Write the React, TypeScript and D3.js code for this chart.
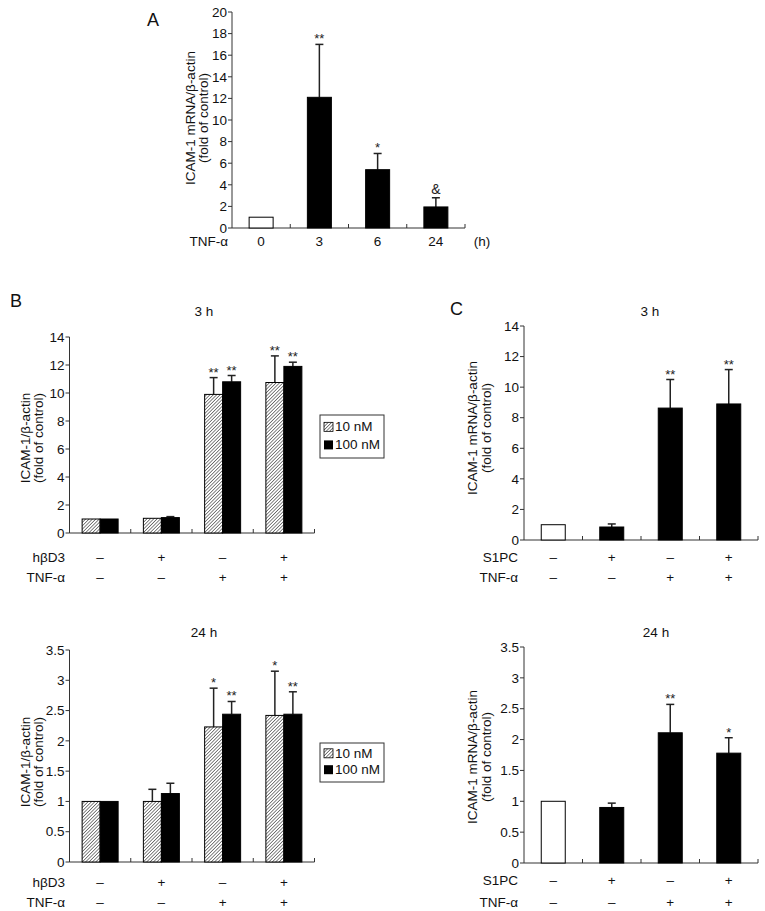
import React from "react";
import * as d3 from "d3";

// ---------- DATA ----------
const aCategories = ["0", "3", "6", "24"];
const aValues = [1, 12.1, 5.4, 1.95];
const aErrTop: (number | null)[] = [null, 17.0, 6.9, 2.8];
const aMarks = ["", "**", "*", "&"];
const aYTicks = [0, 2, 4, 6, 8, 10, 12, 14, 16, 18, 20];

const bHbd3 = ["–", "+", "–", "+"];
const bTnf = ["–", "–", "+", "+"];
const seriesNames = ["10 nM", "100 nM"];

const b3h10 = [1, 1.05, 9.9, 10.75];
const b3h10Err: (number | null)[] = [null, null, 11.1, 12.65];
const b3h10Marks = ["", "", "**", "**"];
const b3h100 = [1, 1.1, 10.8, 11.9];
const b3h100Err: (number | null)[] = [null, 1.17, 11.25, 12.2];
const b3h100Marks = ["", "", "**", "**"];
const b3hTicks = [0, 2, 4, 6, 8, 10, 12, 14];

const b24h10 = [1, 1.0, 2.23, 2.42];
const b24h10Err: (number | null)[] = [null, 1.2, 2.87, 3.15];
const b24h10Marks = ["", "", "*", "*"];
const b24h100 = [1, 1.13, 2.44, 2.44];
const b24h100Err: (number | null)[] = [null, 1.3, 2.65, 2.81];
const b24h100Marks = ["", "", "**", "**"];
const b24hTicks = [0, 0.5, 1, 1.5, 2, 2.5, 3, 3.5];

const cS1pc = ["–", "+", "–", "+"];
const cTnf = ["–", "–", "+", "+"];
const c3h = [1, 0.85, 8.63, 8.9];
const c3hErr: (number | null)[] = [null, 1.05, 10.5, 11.15];
const c3hMarks = ["", "", "**", "**"];
const c24h = [1, 0.9, 2.11, 1.78];
const c24hErr: (number | null)[] = [null, 0.97, 2.57, 2.03];
const c24hMarks = ["", "", "**", "*"];

const FONT = "'Liberation Sans', Arial, Helvetica, sans-serif";
const AX = "#333";
const FS = 13.5;

type YAxisProps = {
  x: number;
  y: d3.ScaleLinear<number, number>;
  ticks: number[];
};
function YAxis({ x, y, ticks }: YAxisProps) {
  const [r0, r1] = y.range();
  return (
    <g>
      <line x1={x} x2={x} y1={r0} y2={r1} stroke={AX} strokeWidth={1} />
      {ticks.map((t) => (
        <g key={t}>
          <line x1={x - 4} x2={x} y1={y(t)} y2={y(t)} stroke={AX} strokeWidth={1} />
          <text x={x - 5} y={y(t)} dy="0.35em" textAnchor="end" fontSize={FS} fontFamily={FONT} fill="#111">
            {String(t)}
          </text>
        </g>
      ))}
    </g>
  );
}

function XAxis({ xs, y0 }: { xs: d3.ScaleBand<string>; y0: number }) {
  const [a, b] = xs.range();
  const dom = xs.domain();
  return (
    <g>
      <line x1={a} x2={b} y1={y0} y2={y0} stroke={AX} strokeWidth={1} />
      {dom.slice(1).map((d) => (
        <line key={d} x1={xs(d)!} x2={xs(d)!} y1={y0} y2={y0 - 4} stroke={AX} strokeWidth={1} />
      ))}
      <line x1={b} x2={b} y1={y0} y2={y0 - 4} stroke={AX} strokeWidth={1} />
    </g>
  );
}

function Bar({ x, w, y, v, err, mark, fill, markSize = 13 }: {
  x: number; w: number; y: d3.ScaleLinear<number, number>; v: number; err: number | null; mark: string; fill: string; markSize?: number;
}) {
  const y0 = y(0);
  const yt = y(v);
  const cx = x + w / 2;
  const topY = err != null ? y(err) : yt;
  return (
    <g>
      {err != null && (
        <g>
          <line x1={cx} x2={cx} y1={yt} y2={y(err)} stroke="#222" strokeWidth={1.5} />
          <line x1={cx - 4} x2={cx + 4} y1={y(err)} y2={y(err)} stroke="#222" strokeWidth={1.5} />
        </g>
      )}
      <rect x={x} y={yt} width={w} height={y0 - yt} fill={fill} stroke="#000" strokeWidth={1} />
      {mark && (
        <text x={cx} y={mark === "&" ? topY - 4 : topY - 1} textAnchor="middle" fontSize={mark === "&" ? 14 : markSize} fontFamily={FONT} fill="#222">
          {mark}
        </text>
      )}
    </g>
  );
}

function YLabel({ cx, cy, lines, gap = 13 }: { cx: number; cy: number; lines: string[]; gap?: number }) {
  return (
    <g transform={`translate(${cx},${cy}) rotate(-90)`}>
      {lines.map((l, i) => (
        <text key={i} x={0} y={i * gap} textAnchor="middle" fontSize={FS} fontFamily={FONT} fill="#111">
          {l}
        </text>
      ))}
    </g>
  );
}

function RowLabels({ xs, rows, labelX, ys }: { xs: d3.ScaleBand<string>; rows: { name: string; vals: string[] }[]; labelX: number; ys: number[] }) {
  const dom = xs.domain();
  return (
    <g fontFamily={FONT} fontSize={FS} fill="#111">
      {rows.map((r, ri) => (
        <g key={r.name}>
          <text x={labelX} y={ys[ri]} textAnchor="end">{r.name}</text>
          {r.vals.map((v, i) => (
            <text key={i} x={xs(dom[i])! + xs.bandwidth() / 2} y={ys[ri]} textAnchor="middle">{v}</text>
          ))}
        </g>
      ))}
    </g>
  );
}

function Legend({ x, y, h }: { x: number; y: number; h: number }) {
  const r1 = y + h * 0.38;
  const r2 = y + h * 0.8;
  return (
    <g fontFamily={FONT} fontSize={FS} fill="#111">
      <rect x={x} y={y} width={64} height={h} fill="#fff" stroke="#333" strokeWidth={1} />
      <rect x={x + 4} y={r1 - 9} width={9} height={9} fill="url(#hatch)" stroke="#000" strokeWidth={0.8} />
      <text x={x + 15} y={r1}>{seriesNames[0]}</text>
      <rect x={x + 4} y={r2 - 9} width={9} height={9} fill="#000" />
      <text x={x + 15} y={r2}>{seriesNames[1]}</text>
    </g>
  );
}

function GroupedPanel({ x0, x1, yTop, yBot, maxV, ticks, s10, e10, m10, s100, e100, m100 }: any) {
  const xs = d3.scaleBand<string>().domain(["g0", "g1", "g2", "g3"]).range([x0, x1]);
  const y = d3.scaleLinear().domain([0, maxV]).range([yBot, yTop]);
  const w = 18;
  return (
    <g>
      <XAxis xs={xs} y0={yBot} />
      {xs.domain().map((g, i) => {
        const c = xs(g)! + xs.bandwidth() / 2;
        return (
          <g key={g}>
            <Bar x={c - w} w={w} y={y} v={s10[i]} err={e10[i]} mark={m10[i]} fill="url(#hatch)" />
            <Bar x={c} w={w} y={y} v={s100[i]} err={e100[i]} mark={m100[i]} fill="#000" />
          </g>
        );
      })}
      <YAxis x={x0} y={y} ticks={ticks} />
    </g>
  );
}

function SinglePanel({ x0, x1, yTop, yBot, maxV, ticks, vals, errs, marks, cats }: any) {
  const xs = d3.scaleBand<string>().domain(cats).range([x0, x1]);
  const y = d3.scaleLinear().domain([0, maxV]).range([yBot, yTop]);
  const w = 24;
  return (
    <g>
      <XAxis xs={xs} y0={yBot} />
      {cats.map((g: string, i: number) => {
        const c = xs(g)! + xs.bandwidth() / 2;
        return <Bar key={g} x={c - w / 2} w={w} y={y} v={vals[i]} err={errs[i]} mark={marks[i]} fill={i === 0 ? "#fff" : "#000"} />;
      })}
      <YAxis x={x0} y={y} ticks={ticks} />
    </g>
  );
}

export default function App() {
  const aXs = d3.scaleBand<string>().domain(aCategories).range([232, 465]);
  const bXs = d3.scaleBand<string>().domain(["g0", "g1", "g2", "g3"]).range([69.5, 314.5]);
  const cXs = d3.scaleBand<string>().domain(["c0", "c1", "c2", "c3"]).range([524, 758]);
  return (
    <svg width={765} height={911} style={{ position: "absolute", left: 0, top: 0, background: "#fff" }}>
      <defs>
        <pattern id="hatch" patternUnits="userSpaceOnUse" width={2.4} height={2.4} patternTransform="rotate(45)">
          <rect width={2.4} height={2.4} fill="#fff" />
          <line x1={0} y1={0} x2={0} y2={2.4} stroke="#333" strokeWidth={1.2} />
        </pattern>
      </defs>
      <rect width={765} height={911} fill="#fff" />

      {/* Panel A */}
      <text x={147} y={26} fontSize={18} fontFamily={FONT} fill="#111">A</text>
      <SinglePanel x0={232} x1={465} yTop={12} yBot={228} maxV={20} ticks={aYTicks}
        vals={aValues} errs={aErrTop} marks={aMarks} cats={aCategories} />
      <YLabel cx={195} cy={118} lines={["ICAM-1 mRNA/β-actin", "(fold of control)"]} />
      <g fontFamily={FONT} fontSize={FS} fill="#111">
        <text x={228} y={246} textAnchor="end">TNF-α</text>
        {aCategories.map((c) => (
          <text key={c} x={aXs(c)! + aXs.bandwidth() / 2} y={246} textAnchor="middle">{c}</text>
        ))}
        <text x={482} y={246} textAnchor="middle">(h)</text>
      </g>

      {/* Panel B */}
      <text x={10} y={307} fontSize={18} fontFamily={FONT} fill="#111">B</text>
      <text x={204} y={316} fontSize={FS} fontFamily={FONT} textAnchor="middle" fill="#111">3 h</text>
      <GroupedPanel x0={69.5} x1={314.5} yTop={337} yBot={533} maxV={14} ticks={b3hTicks}
        s10={b3h10} e10={b3h10Err} m10={b3h10Marks} s100={b3h100} e100={b3h100Err} m100={b3h100Marks} />
      <YLabel cx={30} cy={438} lines={["ICAM-1/β-actin", "(fold of control)"]} />
      <Legend x={320} y={415} h={43} />
      <RowLabels xs={bXs} rows={[{ name: "hβD3", vals: bHbd3 }, { name: "TNF-α", vals: bTnf }]} labelX={65} ys={[562, 582]} />

      <text x={204} y={637} fontSize={FS} fontFamily={FONT} textAnchor="middle" fill="#111">24 h</text>
      <GroupedPanel x0={69.5} x1={314.5} yTop={650} yBot={862} maxV={3.5} ticks={b24hTicks}
        s10={b24h10} e10={b24h10Err} m10={b24h10Marks} s100={b24h100} e100={b24h100Err} m100={b24h100Marks} />
      <YLabel cx={30} cy={762} lines={["ICAM-1/β-actin", "(fold of control)"]} />
      <Legend x={320} y={743} h={39} />
      <RowLabels xs={bXs} rows={[{ name: "hβD3", vals: bHbd3 }, { name: "TNF-α", vals: bTnf }]} labelX={65} ys={[887, 907]} />

      {/* Panel C */}
      <text x={450} y={315} fontSize={18} fontFamily={FONT} fill="#111">C</text>
      <text x={650} y={316} fontSize={FS} fontFamily={FONT} textAnchor="middle" fill="#111">3 h</text>
      <SinglePanel x0={524} x1={758} yTop={326} yBot={540} maxV={14} ticks={b3hTicks}
        vals={c3h} errs={c3hErr} marks={c3hMarks} cats={["c0", "c1", "c2", "c3"]} />
      <YLabel cx={477} cy={428} gap={14} lines={["ICAM-1 mRNA/β-actin", "(fold of control)"]} />
      <RowLabels xs={cXs} rows={[{ name: "S1PC", vals: cS1pc }, { name: "TNF-α", vals: cTnf }]} labelX={518} ys={[562, 582]} />

      <text x={656} y={637} fontSize={FS} fontFamily={FONT} textAnchor="middle" fill="#111">24 h</text>
      <SinglePanel x0={524} x1={758} yTop={647} yBot={863} maxV={3.5} ticks={b24hTicks}
        vals={c24h} errs={c24hErr} marks={c24hMarks} cats={["c0", "c1", "c2", "c3"]} />
      <YLabel cx={477} cy={757} gap={14} lines={["ICAM-1 mRNA/β-actin", "(fold of control)"]} />
      <RowLabels xs={cXs} rows={[{ name: "S1PC", vals: cS1pc }, { name: "TNF-α", vals: cTnf }]} labelX={518} ys={[885, 907]} />
    </svg>
  );
}
